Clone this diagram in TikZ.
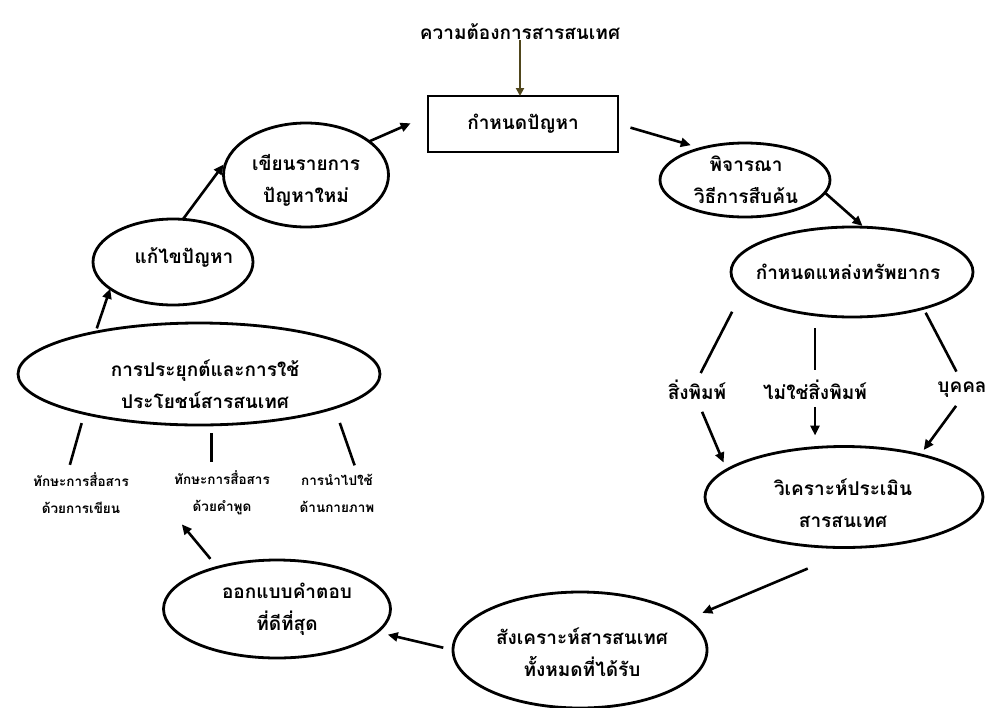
\documentclass[tikz,border=0pt]{standalone}
\usepackage{fontspec}
\newfontfamily\thaifont[Script=Thai]{Loma}
\usetikzlibrary{shapes.geometric,arrows.meta}
\definecolor{arrowolive}{RGB}{80,70,28}
\begin{document}
\begin{tikzpicture}[x=1pt,y=-1pt,
  txt/.style={font=\thaifont\bfseries\fontsize{19}{32}\selectfont, align=center, inner sep=0pt, outer sep=0pt},
  smalltxt/.style={font=\thaifont\bfseries\fontsize{13.5}{27}\selectfont, align=center, inner sep=0pt, outer sep=0pt},
  ell/.style={draw, ellipse, line width=2.8pt, inner sep=0pt, outer sep=0pt},
  arr/.style={line width=2.6pt, -{Triangle[length=10pt,width=9pt]}},
  oarr/.style={line width=2.4pt, arrowolive, -{Triangle[length=8pt,width=8pt]}},
  ln/.style={line width=2.6pt}]
\useasboundingbox (0,0) rectangle (995,707);

\node[txt] (need) at (520,32) {ความต้องการสารสนเทศ};
\node[draw, txt, line width=2.8pt, minimum width=190, minimum height=56] (box) at (523,124) {กำหนดปัญหา};

\node[ell, minimum width=170, minimum height=74] (pij) at (745,180) {};
\node[txt] (pijt) at (746,180) {พิจารณา\\วิธีการสืบค้น};
\node[ell, minimum width=242, minimum height=90] (src) at (852,272) {};
\node[txt] (srct) at (848,272) {กำหนดแหล่งทรัพยากร};
\node[txt] (l1) at (697,390) {สิ่งพิมพ์};
\node[txt] (l2) at (815,390) {ไม่ใช่สิ่งพิมพ์};
\node[txt] (l3) at (962,390) {บุคคล};
\node[ell, minimum width=278, minimum height=101] (ana) at (844,497) {};
\node[txt] (anat) at (843,503) {วิเคราะห์ประเมิน\\สารสนเทศ};
\node[ell, minimum width=254, minimum height=116] (syn) at (580,650) {};
\node[txt] (synt) at (582,652) {สังเคราะห์สารสนเทศ\\ทั้งหมดที่ได้รับ};
\node[ell, minimum width=227, minimum height=98] (des) at (277,609) {};
\node[txt] (dest) at (287,609) {ออกแบบคำตอบ\\ที่ดีที่สุด};
\node[ell, minimum width=362, minimum height=102] (app) at (199,374) {};
\node[txt] (appt) at (205,384) {การประยุกต์และการใช้\\ประโยชน์สารสนเทศ};
\node[smalltxt] (s1) at (81,493) {ทักษะการสื่อสาร\\ด้วยการเขียน};
\node[smalltxt] (s2) at (222,493) {ทักษะการสื่อสาร\\ด้วยคำพูด};
\node[smalltxt] (s3) at (337,493) {การนำไปใช้\\ด้านกายภาพ};
\node[ell, minimum width=160, minimum height=86] (fix) at (173,262) {};
\node[txt] (fixt) at (184,257) {แก้ไขปัญหา};
\node[ell, minimum width=165, minimum height=104] (wri) at (306,175) {};
\node[txt] (writ) at (306,180) {เขียนรายการ\\ปัญหาใหม่};

\draw[oarr] (need.south) -- (need.south |- box.north);
\draw[arr, shorten <=13pt, shorten >=11pt] (box.east) -- (pij.144);
\draw[arr, shorten >=2pt] (pij.-9) -- (src.75);
\draw[ln, shorten <=23pt, shorten >=8pt] (src.-170) -- (l1.north);
\draw[ln, shorten <=11pt, shorten >=10pt] (l2.north |- src.south) -- (l2.north);
\draw[ln, shorten <=5pt, shorten >=12pt] (src.-27) -- (l3.north);
\draw[arr, shorten <=13pt, shorten >=8pt] (l1.south) -- (ana.167);
\draw[arr, shorten <=7pt, shorten >=11pt] (l2.south) -- (l2.south |- ana.north);
\draw[arr, shorten <=10pt, shorten >=6pt] (l3.south) -- (ana.29);
\draw[arr, shorten <=55pt, shorten >=16pt] (ana.-74) -- (syn.16);
\draw[arr, shorten <=10pt, shorten >=11pt] (syn.west) -- (des.-13);
\draw[arr, shorten <=11pt, shorten >=12pt] (des.145) -- (s2.south west);
\draw[ln, shorten <=10pt, shorten >=8pt] (app.-161) -- (s1.123);
\draw[ln, shorten <=8pt, shorten >=9pt] (s2.115 |- app.south) -- (s2.115);
\draw[ln, shorten <=16pt, shorten >=9pt] (app.-14) -- (s3.43);
\draw[arr, shorten <=4pt] (app.158) -- (fix.-157);
\draw[arr, shorten >=6pt] (fix.77) -- (wri.169);
\draw[arr, shorten >=19pt] (wri.28) -- (box.175);
\end{tikzpicture}
\end{document}
